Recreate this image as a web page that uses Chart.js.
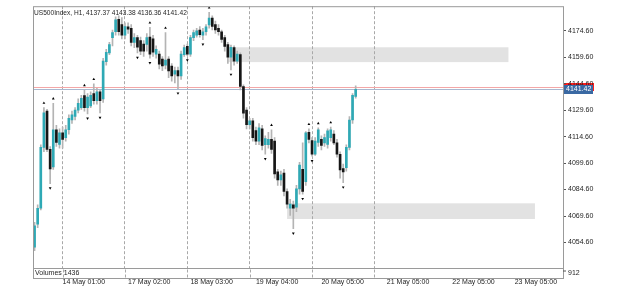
<!DOCTYPE html>
<html>
<head>
<meta charset="utf-8">
<script src="https://cdn.jsdelivr.net/npm/chart.js@4.4.0/dist/chart.umd.min.js"></script>
<style>
  html, body { margin: 0; padding: 0; background: #fff; }
  #wrap { width: 625px; height: 289px; }
</style>
</head>
<body>
<div id="wrap"><canvas id="chart"></canvas></div>
<script>
// US500Index H1 candles, bar 0 = oldest
const open = [
  4052, 4065, 4074, 4108.5, 4129, 4107.4, 4097.4, 4118.5, 4110.1, 4116.8,
  4114, 4118.5, 4124, 4126, 4129.6, 4131, 4137.9, 4131, 4132, 4139,
  4135, 4140, 4136, 4157, 4162, 4170.7, 4174, 4181, 4178, 4172,
  4176.8, 4176, 4168, 4170.7, 4169, 4167, 4166.8, 4171, 4170, 4161.3,
  4161.3, 4158.5, 4155, 4158.5, 4154.6, 4150, 4152, 4149, 4161, 4165.7,
  4161.3, 4170.7, 4172, 4175, 4172, 4174, 4177.9, 4181.8, 4178, 4176,
  4174, 4170.7, 4166.8, 4159.6, 4165, 4157.4, 4161, 4143, 4129.6, 4121.3,
  4123.5, 4118, 4112, 4119, 4110, 4110, 4113, 4112, 4094.6, 4090,
  4094, 4083.5, 4074, 4076, 4074.6, 4085, 4096, 4089, 4117, 4112.4,
  4104.6, 4111.3, 4113, 4111, 4110.1, 4114, 4116, 4111, 4104.6, 4096.5,
  4097, 4108.5, 4124, 4137.37
];
const high = [
  4066, 4076, 4110, 4131, 4130, 4109, 4133.5, 4121, 4119, 4120,
  4121, 4127, 4129, 4131, 4136, 4138, 4141, 4139, 4140, 4144.5,
  4142, 4141, 4159, 4164, 4168, 4175, 4182.5, 4183, 4182, 4179,
  4179, 4178, 4173, 4172, 4171, 4169, 4173, 4176.5, 4172, 4166,
  4163, 4160, 4173.5, 4160, 4156, 4154, 4154, 4163, 4166.5, 4167,
  4172, 4175, 4176, 4177, 4176, 4178, 4185, 4183, 4180, 4178,
  4175, 4172, 4168, 4166.5, 4166, 4163, 4162, 4144, 4131, 4125,
  4125, 4120, 4122, 4121, 4115, 4117, 4118.5, 4114, 4096, 4095,
  4096, 4085, 4079, 4078, 4087, 4100, 4111, 4117.5, 4119, 4114,
  4114, 4119.5, 4115, 4116, 4119, 4120, 4118, 4113, 4106, 4099,
  4110, 4126, 4139, 4143.38
];
const low = [
  4050, 4063, 4073, 4106, 4106, 4088, 4096, 4109, 4108, 4108,
  4112, 4116, 4122, 4124, 4128, 4130, 4129, 4127.5, 4131, 4133,
  4133, 4128, 4134, 4155, 4161, 4166, 4172, 4172, 4170, 4170,
  4173, 4166, 4165, 4162, 4161, 4160, 4163, 4159, 4160, 4159,
  4153, 4152, 4153, 4148, 4146, 4145, 4141.8, 4147, 4160, 4160.5,
  4160, 4169, 4171, 4171, 4169.5, 4172, 4176, 4175, 4173, 4172,
  4168, 4163, 4156, 4152.4, 4155, 4156, 4141, 4125, 4119, 4119,
  4112, 4110, 4110, 4107, 4104.6, 4108, 4105, 4091, 4087, 4087,
  4081, 4074, 4070, 4062.4, 4072, 4082, 4082, 4087, 4111, 4103.5,
  4104, 4109, 4107, 4109, 4108, 4112, 4110, 4103, 4091, 4088.5,
  4095, 4107, 4122, 4136.36
];
const close = [
  4064, 4074, 4108.5, 4128, 4107.4, 4096.3, 4118.5, 4111.3, 4116.8, 4113,
  4118.5, 4125, 4127, 4129.6, 4133.5, 4136.3, 4131, 4137, 4138, 4135,
  4140, 4135, 4157.4, 4162.4, 4166.8, 4173.5, 4180.7, 4174, 4172, 4177,
  4175.5, 4168, 4170.7, 4165.2, 4163, 4163, 4170.7, 4161.3, 4162.4, 4164,
  4155.7, 4154.6, 4158, 4151.8, 4149, 4152, 4149, 4161.3, 4165, 4161.3,
  4170.7, 4173.5, 4174.5, 4172.4, 4174, 4176.8, 4181.8, 4177, 4175, 4174,
  4169.6, 4165.7, 4159.6, 4165.2, 4157.4, 4161.3, 4143, 4127.9, 4121.3, 4123.5,
  4114, 4112, 4119.6, 4109.6, 4113.5, 4113, 4107.4, 4093.5, 4090.1, 4093,
  4083.5, 4076.3, 4076.3, 4074, 4085, 4098.5, 4083.5, 4116.8, 4113, 4104.6,
  4112, 4118.5, 4109.6, 4114, 4117.9, 4118.5, 4111, 4104.6, 4095.7, 4094.6,
  4108.5, 4124, 4138, 4141.42
];

// fractal arrows (bar indexes)
const fractalUp = [3, 6, 16, 19, 37, 42, 56, 76, 88, 91, 95];
const fractalDown = [5, 17, 21, 33, 37, 46, 49, 54, 63, 74, 83, 86, 89, 99];

// supply / demand zones: bar index range and price range
const zoneFrom = [62, 81];
const zoneTo = [152, 160.5];
const zoneTop = [4165.2, 4076.8];
const zoneBottom = [4156.8, 4067.9];

const yTicks = [4054.6, 4069.6, 4084.6, 4099.6, 4114.6, 4129.6, 4144.6, 4159.6, 4174.6];
const xTickIndex = [9, 30, 50, 71, 92, 113, 134, 154];
const xTickLabels = ['14 May 01:00', '17 May 02:00', '18 May 03:00', '19 May 04:00',
                     '20 May 05:00', '21 May 05:00', '22 May 05:00', '23 May 05:00'];
const gridIndex = [9, 29, 49, 69, 89, 109];

const bid = 4141.42;
const ask = 4142.92;
const volumeLast = 1436;
const volumeMax = 912;
const title = 'US500Index, H1, 4137.37 4143.38 4136.36 4141.42';

const TEAL = '#2ea9b5';
const DARK = '#161616';
const FONT = "'Liberation Sans', Arial, sans-serif";

const candleWicks = open.map((o, i) => ({x: i, y: [low[i], high[i]]}));
const candleBodies = open.map((o, i) => ({x: i, y: [o, close[i]]}));
const bodyColors = open.map((o, i) => close[i] >= o ? TEAL : DARK);

const chartPlugin = {
  id: 'mt4panel',
  beforeDraw(chart) {
    const {ctx, scales: {x, y}} = chart;
    ctx.save();
    // zones go in the background
    ctx.fillStyle = '#e2e2e2';
    zoneFrom.forEach((f, k) => {
      const x1 = x.getPixelForValue(f), x2 = x.getPixelForValue(zoneTo[k]);
      const y1 = y.getPixelForValue(zoneTop[k]), y2 = y.getPixelForValue(zoneBottom[k]);
      ctx.fillRect(x1, y1, x2 - x1, y2 - y1);
    });
    // ask label sits under the tick labels
    const ya = Math.round(y.getPixelForValue(ask));
    ctx.fillStyle = '#ff1c1c';
    ctx.fillRect(564, ya - 4, 30, 8);
    ctx.restore();
  },
  beforeDatasetsDraw(chart) {
    const {ctx, chartArea: a, scales: {y}} = chart;
    ctx.save();
    ctx.lineWidth = 1;
    const ya = Math.round(y.getPixelForValue(ask)) + 0.5;
    ctx.strokeStyle = '#f3a7a7';
    ctx.beginPath(); ctx.moveTo(a.left, ya); ctx.lineTo(a.right, ya); ctx.stroke();
    const yb = Math.round(y.getPixelForValue(bid)) + 0.5;
    ctx.strokeStyle = '#a9b8d0';
    ctx.beginPath(); ctx.moveTo(a.left, yb); ctx.lineTo(a.right, yb); ctx.stroke();
    ctx.restore();
  },
  afterDraw(chart) {
    const {ctx, chartArea: a, scales: {x, y}} = chart;
    ctx.save();
    ctx.strokeStyle = '#9a9a9a';
    ctx.lineWidth = 1;
    // main window frame
    ctx.strokeRect(a.left + 0.5, a.top + 0.5, a.right - a.left, a.bottom - a.top);
    // volumes sub window
    const vTop = a.bottom + 0.5, vBot = a.bottom + 10.5;
    ctx.strokeRect(a.left + 0.5, vTop, a.right - a.left, vBot - vTop);
    ctx.setLineDash([3, 2]);
    ctx.strokeStyle = '#a8a8a8';
    gridIndex.forEach(g => {
      const gx = Math.round(x.getPixelForValue(g)) + 0.5;
      ctx.beginPath(); ctx.moveTo(gx, vTop + 1); ctx.lineTo(gx, vBot - 1); ctx.stroke();
    });
    ctx.setLineDash([]);
    ctx.fillStyle = '#1e1e1e';
    ctx.font = '7px ' + FONT;
    ctx.textBaseline = 'middle';
    ctx.textAlign = 'left';
    ctx.fillText('Volumes ' + volumeLast, a.left + 2, vTop + 5);
    ctx.fillText(String(volumeMax), a.right + 5, vTop + 5);
    ctx.strokeStyle = '#555';
    ctx.beginPath(); ctx.moveTo(a.right, vTop + 2.5); ctx.lineTo(a.right + 3, vTop + 2.5); ctx.stroke();
    // title
    ctx.font = '6.6px ' + FONT;
    ctx.fillText(title, a.left + 1, a.top + 7);
    // bid label
    ctx.font = '7px ' + FONT;
    const yb = Math.round(y.getPixelForValue(bid));
    ctx.fillStyle = '#3a69a3';
    ctx.fillRect(564, yb - 4, 29, 9);
    ctx.fillStyle = '#ffffff';
    ctx.fillText(bid.toFixed(2), 566, yb + 0.5);
    ctx.restore();
  }
};

new Chart(document.getElementById('chart'), {
  type: 'bar',
  data: {
    datasets: [
      {
        type: 'line',
        data: fractalUp.map(i => ({x: i, y: high[i] + 2.6})),
        showLine: false,
        pointStyle: 'triangle',
        pointRadius: 1.6,
        backgroundColor: '#000',
        borderColor: '#000',
        borderWidth: 0,
        order: 0
      },
      {
        type: 'line',
        data: fractalDown.map(i => ({x: i, y: low[i] - 2.6})),
        showLine: false,
        pointStyle: 'triangle',
        rotation: 180,
        pointRadius: 1.6,
        backgroundColor: '#000',
        borderColor: '#000',
        borderWidth: 0,
        order: 0
      },
      {
        data: candleBodies,
        backgroundColor: bodyColors,
        barThickness: 2,
        minBarLength: 1,
        grouped: false,
        order: 1
      },
      {
        data: candleWicks,
        backgroundColor: '#b4b4b4',
        barThickness: 1,
        grouped: false,
        order: 2
      }
    ]
  },
  plugins: [chartPlugin],
  options: {
    responsive: true,
    maintainAspectRatio: false,
    animation: false,
    events: [],
    layout: { padding: { left: 33, top: 1, right: 0, bottom: 0 } },
    plugins: { legend: { display: false }, tooltip: { enabled: false } },
    scales: {
      x: {
        type: 'linear',
        min: -0.5,
        max: 169.5,
        offset: false,
        afterBuildTicks: s => {
          const vals = Array.from(new Set(gridIndex.concat(xTickIndex))).sort((p, q) => p - q);
          s.ticks = vals.map(v => ({value: v}));
        },
        afterFit: s => { s.height = 21; },
        grid: {
          offset: false,
          drawTicks: false,
          lineWidth: 1,
          color: c => (c.tick && gridIndex.includes(c.tick.value)) ? '#a8a8a8' : 'rgba(0,0,0,0)'
        },
        border: { display: false, dash: [3, 2] },
        ticks: {
          autoSkip: false,
          maxRotation: 0,
          align: 'start',
          padding: 10,
          color: '#1e1e1e',
          font: { family: FONT, size: 7 },
          callback: v => {
            const k = xTickIndex.indexOf(v);
            return k >= 0 ? xTickLabels[k] : '';
          }
        }
      },
      y: {
        position: 'right',
        min: 4040.15,
        max: 4188.48,
        beginAtZero: false,
        afterBuildTicks: s => { s.ticks = yTicks.map(v => ({value: v})); },
        afterFit: s => { s.width = 62; },
        grid: { drawOnChartArea: false, drawTicks: true, tickLength: 3, tickColor: '#555' },
        border: { display: false },
        ticks: {
          padding: 2,
          color: '#1e1e1e',
          font: { family: FONT, size: 7 },
          callback: v => v.toFixed(2)
        }
      }
    }
  }
});
</script>
</body>
</html>
